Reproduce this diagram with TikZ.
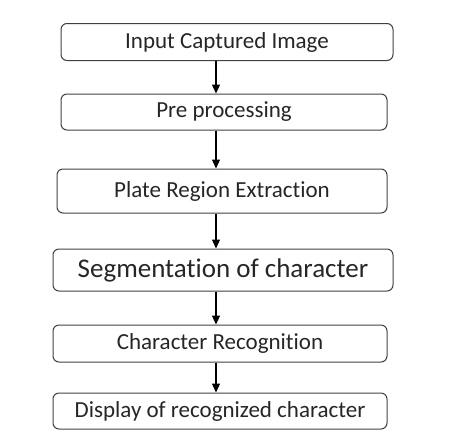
\documentclass[tikz,border=0pt]{standalone}
\usepackage{fontspec}
\setmainfont[Ligatures=NoCommon]{Carlito}
\usetikzlibrary{arrows.meta}
\tikzset{
  stage/.style={draw=black!75,line width=1pt,rounded corners=6pt,inner sep=0pt,
    text=black!85,font=\fontsize{23}{27}\selectfont},
  flow/.style={line width=1.1pt,-{Triangle[length=9pt,width=8pt]}}
}
\begin{document}
\begin{tikzpicture}[x=1pt,y=-1pt]
\useasboundingbox (0,0) rectangle (452,445);
\node[stage,minimum width=332pt,minimum height=37pt] (input) at (227,42) {Input Captured Image};
\node[stage,minimum width=326pt,minimum height=36pt] (pre) at (224,112) {Pre processing};
\node[stage,minimum width=330pt,minimum height=44pt] (plate) at (222,191) {Plate Region Extraction};
\node[stage,minimum width=340pt,minimum height=42pt,font=\fontsize{27}{31}\selectfont] (seg) at (223,270) {Segmentation of character};
\node[stage,minimum width=334pt,minimum height=37pt] (recog) at (220,343.5) {Character Recognition};
\node[stage,minimum width=334pt,minimum height=36pt] (disp) at (220,411) {Display of recognized character};
\coordinate (axis) at (216,0);
\draw[flow] (input.south -| axis) -- (pre.north -| axis);
\draw[flow] (pre.south -| axis) -- (plate.north -| axis);
\draw[flow] (plate.south -| axis) -- (seg.north -| axis);
\draw[flow] (seg.south -| axis) -- (recog.north -| axis);
\draw[flow] (recog.south -| axis) -- (disp.north -| axis);
\end{tikzpicture}
\end{document}
